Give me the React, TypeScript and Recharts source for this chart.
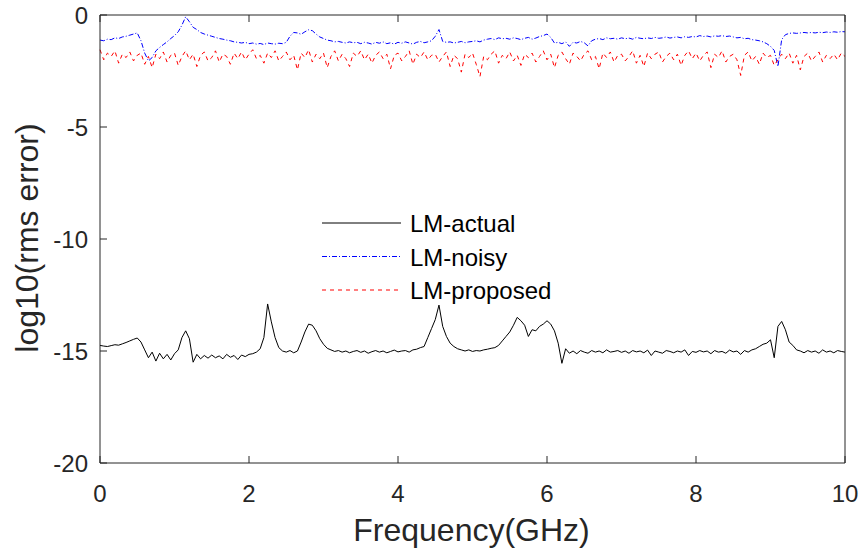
import { LineChart, Line, XAxis, YAxis, Legend } from 'recharts'

// frequency grid spacing (GHz) of the sampled curves
const FREQ_STEP_GHZ = 0.05

const X_TICKS = [0, 2, 4, 6, 8, 10]
const Y_TICKS = [-20, -15, -10, -5, 0]

// log10(rms error), one row = 0.5 GHz
const actual = [
  -14.75, -14.78, -14.8, -14.76, -14.72, -14.74, -14.68, -14.62, -14.55, -14.48,
  -14.42, -14.6, -14.95, -15.3, -15.05, -15.45, -15.1, -15.35, -15.15, -15.4,
  -15.12, -14.95, -14.4, -14.1, -14.45, -15.5, -15.15, -15.35, -15.2, -15.32,
  -15.18, -15.3, -15.22, -15.35, -15.15, -15.28, -15.2, -15.38, -15.18, -15.25,
  -15.15, -15.12, -15.05, -14.9, -14.4, -12.9, -13.7, -14.4, -14.85, -15.0,
  -15.05, -14.98, -15.08, -15.0, -14.6, -14.15, -13.8, -13.85, -14.1, -14.45,
  -14.7, -14.88, -14.95, -15.02, -14.98, -15.05, -15.0, -15.08, -15.02, -14.98,
  -15.06, -15.0, -15.1, -15.03, -14.98, -15.05, -15.0, -15.08, -15.02, -14.96,
  -15.04, -15.0, -14.98, -15.05, -14.95, -14.92, -14.85, -14.8, -14.4, -14.0,
  -13.6, -12.95, -13.9, -14.35, -14.65, -14.8, -14.9, -14.95, -15.0, -14.95,
  -15.02, -14.98, -15.0, -14.95, -14.92, -14.88, -14.85, -14.75, -14.55, -14.35,
  -14.15, -13.85, -13.5, -13.65, -13.85, -14.35, -14.05, -14.1, -13.9, -13.8,
  -13.65, -13.8, -14.1, -14.65, -15.55, -14.9, -15.1, -15.0, -15.12, -14.98,
  -15.05, -15.1, -14.98, -15.05, -15.0, -15.08, -14.95, -15.05, -15.02, -14.98,
  -15.06, -15.0, -15.1, -14.98, -15.04, -15.0, -15.08, -14.96, -15.2, -15.0,
  -15.05, -15.1, -14.98, -15.02, -15.08, -15.0, -15.05, -14.95, -15.2, -15.02,
  -15.06, -14.98, -15.04, -15.0, -15.12, -14.98, -15.05, -15.02, -15.1, -14.96,
  -15.04, -15.0, -15.15, -14.98, -15.05, -14.95, -14.9, -14.8, -14.7, -14.65,
  -14.5, -15.3, -13.9, -13.68, -14.05, -14.6, -14.75, -14.95, -15.0, -15.08,
  -14.98, -15.05, -15.0, -15.1, -14.95, -15.05, -15.0, -15.08, -14.98, -15.02,
  -15.05,
]

const noisy = [
  -1.12, -1.15, -1.08, -1.1, -1.02, -1.05, -0.98, -0.95, -0.9, -0.85,
  -0.8, -1.15, -1.7, -2.05, -1.9, -1.6, -1.45, -1.32, -1.2, -1.05,
  -0.92, -0.75, -0.45, -0.08, -0.3, -0.55, -0.65, -0.78, -0.85, -0.9,
  -0.95, -1.0, -1.05, -1.08, -1.12, -1.15, -1.2, -1.22, -1.25, -1.22,
  -1.28, -1.25, -1.3, -1.27, -1.32, -1.25, -1.28, -1.3, -1.26, -1.28,
  -1.22, -0.95, -0.78, -0.8, -0.86, -0.75, -0.66, -0.7, -0.85, -0.98,
  -1.05, -1.12, -1.15, -1.2, -1.18, -1.22, -1.25, -1.2, -1.24, -1.22,
  -1.28, -1.22, -1.25, -1.3, -1.22, -1.26, -1.2, -1.28, -1.24, -1.3,
  -1.22, -1.26, -1.2, -1.25, -1.3, -1.22, -1.18, -1.24, -1.2, -1.15,
  -0.95, -0.65, -1.18, -1.22, -1.2, -1.25, -1.22, -1.18, -1.24, -1.2,
  -1.18, -1.15, -1.2, -1.12, -1.08, -1.05, -1.1, -1.02, -1.06, -1.04,
  -1.08, -1.02, -1.05, -1.1, -1.04, -1.0, -1.08, -1.03, -0.96, -0.92,
  -0.85, -1.0, -1.25, -1.22, -1.28, -1.2, -1.4, -1.22, -1.25, -1.18,
  -1.24, -1.38, -1.15, -1.08, -1.05, -1.1, -1.02, -1.06, -1.04, -1.08,
  -1.02, -1.06, -1.03, -1.08, -1.0, -1.04, -1.06, -1.02, -1.05, -1.0,
  -1.04, -1.02, -0.98, -1.03, -1.0, -0.98, -1.02, -0.97, -1.0, -0.96,
  -0.98, -0.92, -0.96, -0.94, -0.98, -0.93, -0.95, -0.92, -0.96, -0.94,
  -0.98, -1.02, -1.0, -1.06, -1.04, -1.1, -1.12, -1.15, -1.2, -1.28,
  -1.4, -1.58, -2.3, -1.1, -0.88, -0.82, -0.8, -0.82, -0.8, -0.78,
  -0.8, -0.78, -0.8, -0.77, -0.79, -0.76, -0.78, -0.75, -0.77, -0.74,
  -0.75,
]

const proposed = [
  -1.55, -2.0, -1.7, -1.85, -1.6, -2.15, -1.75, -1.9, -1.65, -2.05,
  -1.8, -1.7, -2.2, -1.85, -2.35, -1.75, -1.95, -1.65, -2.1, -1.8,
  -1.7, -2.25, -1.85, -1.6, -2.0, -1.75, -2.3, -1.8, -1.65, -2.05,
  -1.9, -1.6, -2.1, -1.75, -1.85, -2.2, -1.7, -1.95, -1.65, -2.0,
  -1.75, -1.55, -1.95, -1.8, -2.15, -1.7, -1.9, -1.6, -2.05, -1.85,
  -1.65, -2.0, -1.8, -2.45, -1.7, -1.9, -1.55, -2.1, -1.75, -1.95,
  -1.7, -2.35, -1.85, -1.6, -2.05, -1.75, -1.95, -2.3, -1.7, -1.85,
  -1.6, -2.0, -1.75, -2.15, -1.8, -1.65, -1.95, -1.75, -2.4, -1.8,
  -1.7, -2.05, -1.85, -1.6, -2.2, -1.75, -1.9, -1.65, -2.0, -1.8,
  -1.75, -2.1, -1.85, -1.65, -2.3, -1.8, -1.95, -2.55, -1.75, -1.9,
  -1.7, -2.2, -2.75, -1.85, -2.0, -1.75, -1.6, -2.15, -1.8, -1.95,
  -1.65, -2.05, -1.8, -2.25, -1.75, -1.9, -1.7, -2.1, -1.85, -1.6,
  -2.0, -1.75, -2.35, -1.8, -1.65, -1.95, -2.2, -1.7, -1.85, -2.05,
  -1.75, -1.6, -2.0, -1.85, -2.4, -1.7, -1.9, -1.65, -2.1, -1.8,
  -1.75, -2.05, -1.85, -1.6, -2.15, -1.8, -2.3, -1.7, -1.95, -1.75,
  -1.65, -2.1, -1.85, -1.7, -2.0, -1.75, -2.25, -1.8, -1.6, -1.95,
  -1.7, -2.05, -1.8, -1.65, -2.35, -1.75, -1.9, -1.6, -2.1, -1.85,
  -1.75, -2.0, -2.7, -1.8, -1.65, -2.05, -1.85, -2.2, -1.7, -1.9,
  -1.8, -2.25, -2.0, -1.75, -1.95, -1.7, -2.15, -1.8, -2.45, -1.85,
  -1.7, -2.05, -1.85, -1.65, -2.1, -1.8, -1.95, -1.75, -2.0, -1.7,
  -1.85,
]

const data = actual.map((v, i) => ({
  freq: +(i * FREQ_STEP_GHZ).toFixed(2),
  actual: v,
  noisy: noisy[i],
  proposed: proposed[i],
}))

const FONT = '"Liberation Sans", Arial, Helvetica, sans-serif'
const AXIS = '#262626'
const TICK_LEN = 7

const SERIES = [
  { key: 'actual', name: 'LM-actual', color: '#000000', dash: undefined },
  { key: 'noisy', name: 'LM-noisy', color: '#0000ff', dash: '5 2 1 2' },
  { key: 'proposed', name: 'LM-proposed', color: '#ff0000', dash: '4 4' },
]

const BottomTick = ({ x, y, payload }: any) => (
  <g>
    <line x1={x} y1={y} x2={x} y2={y - TICK_LEN} stroke={AXIS} />
    <text x={x} y={y + 39} textAnchor="middle" fontSize={24} fontFamily={FONT} fill={AXIS}>
      {payload.value}
    </text>
  </g>
)

const TopTick = ({ x, y }: any) => <line x1={x} y1={y} x2={x} y2={y + TICK_LEN} stroke={AXIS} />

const LeftTick = ({ x, y, payload }: any) => (
  <g>
    <line x1={x} y1={y} x2={x + TICK_LEN} y2={y} stroke={AXIS} />
    <text x={x - 12} y={y + 9} textAnchor="end" fontSize={24} fontFamily={FONT} fill={AXIS}>
      {payload.value}
    </text>
  </g>
)

const RightTick = ({ x, y }: any) => <line x1={x} y1={y} x2={x - TICK_LEN} y2={y} stroke={AXIS} />

const LegendBox = () => (
  <svg width={260} height={100} style={{ display: 'block' }}>
    {SERIES.map((s, i) => (
      <g key={s.key}>
        <line
          x1={1}
          x2={80}
          y1={15 + i * 33.5}
          y2={15 + i * 33.5}
          stroke={s.color}
          strokeWidth={1}
          strokeDasharray={s.dash}
        />
        <text x={89} y={15 + i * 33.5 + 9} fontSize={24} fontFamily={FONT} fill="#000">
          {s.name}
        </text>
      </g>
    ))}
  </svg>
)

export default function App() {
  return (
    <div style={{ position: 'absolute', left: 0, top: 0, width: 861, height: 552, background: '#fff' }}>
      <LineChart width={861} height={552} data={data} margin={{ top: 0, right: 0, bottom: 0, left: 0 }}>
        <XAxis
          xAxisId="bottom"
          dataKey="freq"
          type="number"
          domain={[0, 10]}
          ticks={X_TICKS}
          height={89}
          stroke={AXIS}
          tickLine={false}
          tickSize={0}
          tickMargin={0}
          tick={<BottomTick />}
          label={{
            content: ({ viewBox }: any) => (
              <text
                x={viewBox.x + viewBox.width / 2 - 1}
                y={viewBox.y + 78}
                textAnchor="middle"
                fontSize={32}
                fontFamily={FONT}
                fill={AXIS}
              >
                Frequency(GHz)
              </text>
            ),
          }}
        />
        <XAxis
          xAxisId="top"
          orientation="top"
          dataKey="freq"
          type="number"
          domain={[0, 10]}
          ticks={X_TICKS}
          height={15}
          stroke={AXIS}
          tickLine={false}
          tickSize={0}
          tickMargin={0}
          tick={<TopTick />}
        />
        <YAxis
          yAxisId="left"
          type="number"
          domain={[-20, 0]}
          ticks={Y_TICKS}
          width={100}
          stroke={AXIS}
          tickLine={false}
          tickSize={0}
          tickMargin={0}
          tick={<LeftTick />}
          label={{
            content: ({ viewBox }: any) => (
              <text
                x={0}
                y={0}
                transform={`translate(${viewBox.x + 38}, ${viewBox.y + viewBox.height / 2 - 1}) rotate(-90)`}
                textAnchor="middle"
                fontSize={32}
                fontFamily={FONT}
                fill={AXIS}
              >
                log10(rms error)
              </text>
            ),
          }}
        />
        <YAxis
          yAxisId="right"
          orientation="right"
          type="number"
          domain={[-20, 0]}
          ticks={Y_TICKS}
          width={16}
          stroke={AXIS}
          tickLine={false}
          tickSize={0}
          tickMargin={0}
          tick={<RightTick />}
        />
        <Legend
          layout="horizontal"
          verticalAlign="middle"
          align="center"
          content={<LegendBox />}
          wrapperStyle={{ left: 321, top: 208, width: 260, height: 100 }}
        />
        {SERIES.map((s) => (
          <Line
            key={s.key}
            xAxisId="bottom"
            yAxisId="left"
            dataKey={s.key}
            name={s.name}
            type="linear"
            stroke={s.color}
            strokeWidth={1}
            strokeDasharray={s.dash}
            dot={false}
            activeDot={false}
            isAnimationActive={false}
          />
        ))}
      </LineChart>
    </div>
  )
}
